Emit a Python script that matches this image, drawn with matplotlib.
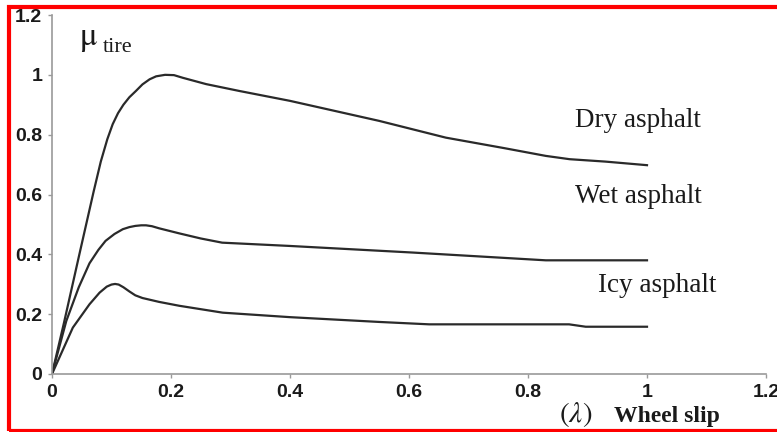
import matplotlib
matplotlib.use("Agg")
import matplotlib.pyplot as plt
from matplotlib.patches import Rectangle

plt.rcParams["mathtext.fontset"] = "stix"

# ---- data ----
dry_x = [0, 0.02, 0.046, 0.07, 0.082, 0.093, 0.102, 0.111, 0.12, 0.13, 0.141, 0.152,
         0.164, 0.175, 0.19, 0.205, 0.22, 0.259, 0.315, 0.4, 0.55, 0.662, 0.76, 0.83,
         0.87, 0.93, 1.0]
dry_y = [0, 0.17, 0.40, 0.61, 0.71, 0.785, 0.835, 0.872, 0.9, 0.925, 0.946, 0.968,
         0.985, 0.995, 1.0, 0.999, 0.99, 0.969, 0.946, 0.913, 0.846, 0.79, 0.755, 0.729,
         0.718, 0.71, 0.698]

wet_x = [0, 0.024, 0.045, 0.063, 0.078, 0.09, 0.105, 0.119, 0.13, 0.14, 0.15, 0.158,
         0.168, 0.18, 0.214, 0.25, 0.286, 0.4, 0.606, 0.83, 1.0]
wet_y = [0, 0.177, 0.29, 0.37, 0.415, 0.445, 0.468, 0.484, 0.491, 0.495, 0.497, 0.497,
         0.494, 0.487, 0.47, 0.453, 0.439, 0.428, 0.406, 0.38, 0.38]

icy_x = [0, 0.035, 0.063, 0.08, 0.092, 0.1, 0.106, 0.112, 0.12, 0.13, 0.14, 0.152,
         0.18, 0.214, 0.287, 0.4, 0.55, 0.634, 0.869, 0.897, 1.0]
icy_y = [0, 0.155, 0.233, 0.272, 0.292, 0.299, 0.301, 0.299, 0.29, 0.276, 0.263, 0.254,
         0.241, 0.228, 0.205, 0.19, 0.174, 0.166, 0.166, 0.158, 0.158]

x_ticks = [0, 0.2, 0.4, 0.6, 0.8, 1, 1.2]
x_tick_labels = ["0", "0.2", "0.4", "0.6", "0.8", "1", "1.2"]
y_ticks = [0, 0.2, 0.4, 0.6, 0.8, 1, 1.2]
y_tick_labels = ["0", "0.2", "0.4", "0.6", "0.8", "1", "1.2"]

series_labels = ["Dry asphalt", "Wet asphalt", "Icy asphalt"]

# ---- figure ----
fig = plt.figure(figsize=(7.77, 4.32), dpi=100)
ax = fig.add_axes([52 / 777, 58 / 432, 714 / 777, 359 / 432])

line_kw = dict(color="#2a2a2a", lw=1.6, solid_joinstyle="round")
ax.plot(dry_x, dry_y, **line_kw)
ax.plot(wet_x, wet_y, **line_kw)
ax.plot(icy_x, icy_y, **line_kw)

ax.set_xlim(0, 1.2)
ax.set_ylim(0, 1.2)
ax.set_xticks(x_ticks)
ax.set_xticklabels(x_tick_labels)
ax.set_yticks(y_ticks)
ax.set_yticklabels(y_tick_labels)

for s in ["top", "right"]:
    ax.spines[s].set_visible(False)
for s in ["left", "bottom"]:
    ax.spines[s].set_color("#9a9a9a")
    ax.spines[s].set_linewidth(1.2)

ax.tick_params(axis="both", direction="out", length=3, width=1, color="#9a9a9a",
               labelsize=14, labelcolor="#1a1a1a", pad=4)
for lab in ax.get_xticklabels() + ax.get_yticklabels():
    lab.set_fontfamily("Liberation Sans")
    lab.set_fontweight("bold")

serif = "Liberation Serif"
ax.text(0.045, 1.10, r"$\mathrm{\mu}$", fontsize=24, color="#1a1a1a")
ax.text(0.086, 1.077, "tire", fontsize=16, family=serif, color="#1a1a1a")

lab_kw = dict(fontsize=19.5, family=serif, color="#1a1a1a")
ax.text(0.879, 0.827, series_labels[0], **lab_kw)
ax.text(0.879, 0.572, series_labels[1], **lab_kw)
ax.text(0.918, 0.275, series_labels[2], **lab_kw)

ax.text(0.852, -0.16, r"$(\lambda)$", fontsize=21, color="#1a1a1a", clip_on=False)
ax.text(0.945, -0.16, "Wheel slip", fontsize=17, family=serif, fontweight="bold",
        color="#1a1a1a", clip_on=False)

# red frame around the figure
fig.patches.append(Rectangle((9 / 777, 1.5 / 432), 1.0, (432 - 8.5) / 432,
                             transform=fig.transFigure, fill=False,
                             edgecolor="#ff0000", linewidth=3.0, figure=fig))

fig.savefig("out.png", dpi=100)
